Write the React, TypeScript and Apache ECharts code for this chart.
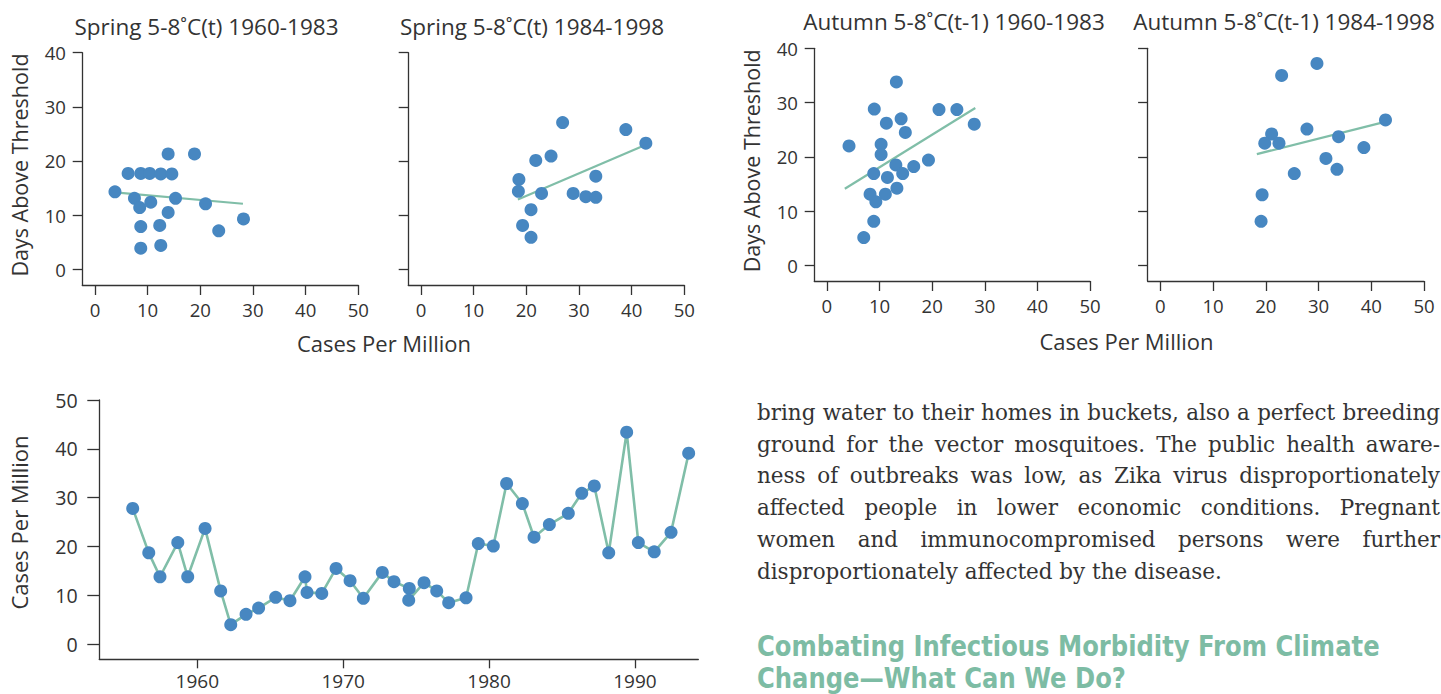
import React, { useEffect, useRef } from "react";
import * as echarts from "echarts";

// ---------- data ----------
const springEarly: [number, number][] = [
  [3.8, 14.3], [6.3, 17.7], [8.7, 17.7], [10.4, 17.7], [12.5, 17.6], [14.6, 17.6],
  [13.9, 21.3], [18.9, 21.3], [7.5, 13.1], [8.5, 11.4], [10.6, 12.4], [15.3, 13.1],
  [21.0, 12.1], [13.9, 10.5], [8.7, 7.9], [12.3, 8.1], [23.5, 7.1], [28.2, 9.3],
  [8.7, 3.9], [12.5, 4.4],
];
const springEarlyTrend: [number, number][] = [[3.8, 14.2], [28.1, 12.1]];

const springLate: [number, number][] = [
  [26.9, 27.1], [38.9, 25.8], [42.7, 23.3], [21.8, 20.1], [24.7, 20.9], [18.6, 16.6],
  [18.5, 14.4], [22.9, 14.0], [28.9, 14.0], [31.3, 13.4], [33.2, 13.3], [33.2, 17.2],
  [20.9, 11.0], [19.3, 8.1], [20.9, 5.9],
];
const springLateTrend: [number, number][] = [[18.4, 12.9], [42.7, 23.0]];

const autumnEarly: [number, number][] = [
  [4.2, 22.0], [7.0, 5.1], [9.0, 28.8], [13.2, 33.8], [11.3, 26.2], [14.1, 27.0],
  [14.9, 24.5], [21.3, 28.7], [24.7, 28.7], [28.0, 26.0], [10.3, 22.3], [10.3, 20.4],
  [8.9, 16.9], [11.5, 16.2], [13.1, 18.5], [14.4, 16.9], [16.5, 18.2], [19.3, 19.4],
  [8.2, 13.1], [11.1, 13.1], [9.3, 11.7], [13.3, 14.2], [8.9, 8.1],
];
const autumnEarlyTrend: [number, number][] = [[3.4, 14.1], [28.2, 29.0]];

const autumnLate: [number, number][] = [
  [29.7, 37.2], [23.0, 35.0], [42.7, 26.8], [27.8, 25.1], [21.1, 24.2], [19.8, 22.5],
  [22.5, 22.5], [33.8, 23.7], [38.6, 21.7], [31.4, 19.7], [33.5, 17.7], [25.4, 16.9],
  [19.3, 13.0], [19.1, 8.1],
];
const autumnLateTrend: [number, number][] = [[18.3, 20.5], [42.4, 26.4]];

const yearlyCases: [number, number][] = [
  [1955.57, 27.8], [1956.67, 18.7], [1957.44, 13.8], [1958.66, 20.8], [1959.34, 13.8],
  [1960.53, 23.7], [1961.6, 10.9], [1962.29, 4.0], [1963.34, 6.1], [1964.2, 7.4],
  [1965.37, 9.6], [1966.35, 8.9], [1967.38, 13.8], [1967.52, 10.6], [1968.53, 10.4],
  [1969.51, 15.5], [1970.47, 13.0], [1971.38, 9.4], [1972.68, 14.7], [1973.48, 12.8],
  [1974.53, 11.4], [1974.49, 9.0], [1975.54, 12.6], [1976.41, 10.9], [1977.23, 8.5],
  [1978.42, 9.5], [1979.26, 20.6], [1980.29, 20.1], [1981.2, 32.9], [1982.28, 28.8],
  [1983.08, 21.9], [1984.13, 24.5], [1985.43, 26.8], [1986.35, 30.9], [1987.21, 32.4],
  [1988.2, 18.7], [1989.43, 43.4], [1990.23, 20.8], [1991.32, 18.9], [1992.47, 22.9],
  [1993.68, 39.1],
];

const panelTitles = [
  "Spring 5-8˚C(t) 1960-1983",
  "Spring 5-8˚C(t) 1984-1998",
  "Autumn 5-8˚C(t-1) 1960-1983",
  "Autumn 5-8˚C(t-1) 1984-1998",
];
const scatterXTicks = [0, 10, 20, 30, 40, 50];
const scatterYTicks = [0, 10, 20, 30, 40];
const timeXTicks = [1960, 1970, 1980, 1990];
const timeYTicks = [0, 10, 20, 30, 40, 50];
const xAxisTitle = "Cases Per Million";
const yAxisTitle = "Days Above Threshold";
const timeYAxisTitle = "Cases Per Million";

const paragraphLines = [
  "bring water to their homes in buckets, also a perfect breeding",
  "ground for the vector mosquitoes. The public health aware-",
  "ness of outbreaks was low, as Zika virus disproportionately",
  "affected people in lower economic conditions. Pregnant",
  "women and immunocompromised persons were further",
  "disproportionately affected by the disease.",
];
const headingLines = [
  "Combating Infectious Morbidity From Climate",
  "Change—What Can We Do?",
];

// ---------- style ----------
const AXIS = "#333333";
const DOT = "#4787c1";
const LINE = "#80bea8";
const HEAD = "#7dbca4";
const FONT = '"Open Sans", "Noto Sans", sans-serif';
const SERIF = '"DejaVu Serif", serif';

function measure(text: string, font: string): number {
  const ctx = document.createElement("canvas").getContext("2d");
  if (!ctx) return text.length * 10;
  ctx.font = font;
  return ctx.measureText(text).width;
}

function makeAxis(
  gridIndex: number,
  min: number,
  max: number,
  ticks: number[],
  showLabels: boolean,
  margin: number,
  tickLen: number,
  fontSize: number
) {
  return {
    type: "value",
    gridIndex,
    min,
    max,
    axisLine: { show: true, onZero: false, lineStyle: { color: AXIS, width: 1.3 } },
    axisTick: { show: true, length: tickLen, customValues: ticks, lineStyle: { color: AXIS, width: 1.3 } },
    axisLabel: {
      show: showLabels,
      customValues: ticks,
      margin,
      color: AXIS,
      fontSize,
      fontFamily: FONT,
      formatter: (v: number) => String(v),
    },
    splitLine: { show: false },
  };
}

export default function App() {
  const ref = useRef<HTMLDivElement>(null);

  useEffect(() => {
    if (!ref.current) return;
    const chart = echarts.init(ref.current, undefined, { renderer: "svg" });

    const grids = [
      { left: 82.3, top: 52.7, width: 276, height: 232.3 },
      { left: 408.3, top: 52.7, width: 276, height: 232.3 },
      { left: 814.3, top: 48.3, width: 275.7, height: 232.7 },
      { left: 1147.7, top: 48.3, width: 276.3, height: 232.7 },
      { left: 99.3, top: 400, width: 599, height: 259.3 },
    ].map((g) => ({ ...g, containLabel: false, outerBoundsMode: "none" }));

    const scatterSets = [springEarly, springLate, autumnEarly, autumnLate];
    const trendSets = [springEarlyTrend, springLateTrend, autumnEarlyTrend, autumnLateTrend];
    const showY = [true, false, true, false];

    const xAxes: any[] = [];
    const yAxes: any[] = [];
    for (let i = 0; i < 4; i++) {
      xAxes.push(makeAxis(i, -2.4, 50, scatterXTicks, true, 15, 10, 18.6));
      yAxes.push(makeAxis(i, -2.9, 40, scatterYTicks, showY[i], 16.3, 9.6, 18.6));
    }
    xAxes.push(makeAxis(4, 1953.28, 1994.34, timeXTicks, true, 12, 9, 19));
    yAxes.push(makeAxis(4, -3.1, 50, timeYTicks, true, 21.7, 12, 19.6));

    const series: any[] = [];
    for (let i = 0; i < 4; i++) {
      series.push({
        type: "line",
        xAxisIndex: i,
        yAxisIndex: i,
        data: trendSets[i],
        symbol: "none",
        showSymbol: false,
        lineStyle: { color: LINE, width: 2.2 },
        z: 2,
        silent: true,
      });
      series.push({
        type: "scatter",
        xAxisIndex: i,
        yAxisIndex: i,
        data: scatterSets[i],
        symbolSize: 13,
        itemStyle: { color: DOT, opacity: 1 },
        z: 3,
      });
    }
    series.push({
      type: "line",
      xAxisIndex: 4,
      yAxisIndex: 4,
      data: yearlyCases,
      symbol: "circle",
      symbolSize: 13,
      showSymbol: true,
      itemStyle: { color: DOT, opacity: 1 },
      lineStyle: { color: LINE, width: 2.6 },
      z: 3,
    });

    const graphics: any[] = [];
    const titlePos = [
      [206.5, 26],
      [532, 26],
      [954, 21.8],
      [1284, 21.8],
    ];
    panelTitles.forEach((t, i) => {
      graphics.push({
        type: "text",
        x: titlePos[i][0],
        y: titlePos[i][1],
        style: { text: t, font: `22.5px ${FONT}`, fill: AXIS, align: "center", verticalAlign: "middle" },
      });
    });
    [[384, 342.5], [1126.5, 340.5]].forEach(([x, y]) => {
      graphics.push({
        type: "text",
        x,
        y,
        style: { text: xAxisTitle, font: `22px ${FONT}`, fill: AXIS, align: "center", verticalAlign: "middle" },
      });
    });
    [[19.3, 165], [751, 160.8]].forEach(([x, y]) => {
      graphics.push({
        type: "text",
        x,
        y,
        rotation: Math.PI / 2,
        style: { text: yAxisTitle, font: `21.5px ${FONT}`, fill: AXIS, align: "center", verticalAlign: "middle" },
      });
    });
    graphics.push({
      type: "text",
      x: 19.3,
      y: 522.5,
      rotation: Math.PI / 2,
      style: { text: timeYAxisTitle, font: `22px ${FONT}`, fill: AXIS, align: "center", verticalAlign: "middle" },
    });

    // paragraph, justified lines
    const paraLeft = 757;
    const paraRight = 1440;
    const firstLine = paragraphLines[0];
    const paraSize = Math.max(16, Math.min(24, (20 * (paraRight - paraLeft - 4)) / measure(firstLine, `20px ${SERIF}`)));
    const paraFont = `${paraSize}px ${SERIF}`;
    paragraphLines.forEach((line, i) => {
      const y = 412.3 + i * 31.8;
      if (i === paragraphLines.length - 1) {
        graphics.push({
          type: "text",
          x: paraLeft,
          y,
          style: { text: line, font: paraFont, fill: "#333333", align: "left", verticalAlign: "middle" },
        });
        return;
      }
      const words = line.split(" ");
      const widths = words.map((w) => measure(w, paraFont));
      const total = widths.reduce((a, b) => a + b, 0);
      const gap = (paraRight - paraLeft - total) / (words.length - 1);
      let x = paraLeft;
      words.forEach((w, k) => {
        graphics.push({
          type: "text",
          x,
          y,
          style: { text: w, font: paraFont, fill: "#333333", align: "left", verticalAlign: "middle" },
        });
        x += widths[k] + gap;
      });
    });

    // heading
    const headFont = `bold 29px "DejaVu Sans", sans-serif`;
    const headScale = 623 / measure(headingLines[0], headFont);
    headingLines.forEach((line, i) => {
      graphics.push({
        type: "text",
        x: 757,
        y: 646 + i * 31.5,
        scaleX: headScale,
        style: { text: line, font: headFont, fill: HEAD, align: "left", verticalAlign: "middle" },
      });
    });

    chart.setOption({
      animation: false,
      backgroundColor: "#ffffff",
      grid: grids,
      xAxis: xAxes,
      yAxis: yAxes,
      series,
      graphic: { elements: graphics },
    });

    return () => chart.dispose();
  }, []);

  return (
    <div
      ref={ref}
      style={{ position: "absolute", left: 0, top: 0, width: 1441, height: 694 }}
    />
  );
}
